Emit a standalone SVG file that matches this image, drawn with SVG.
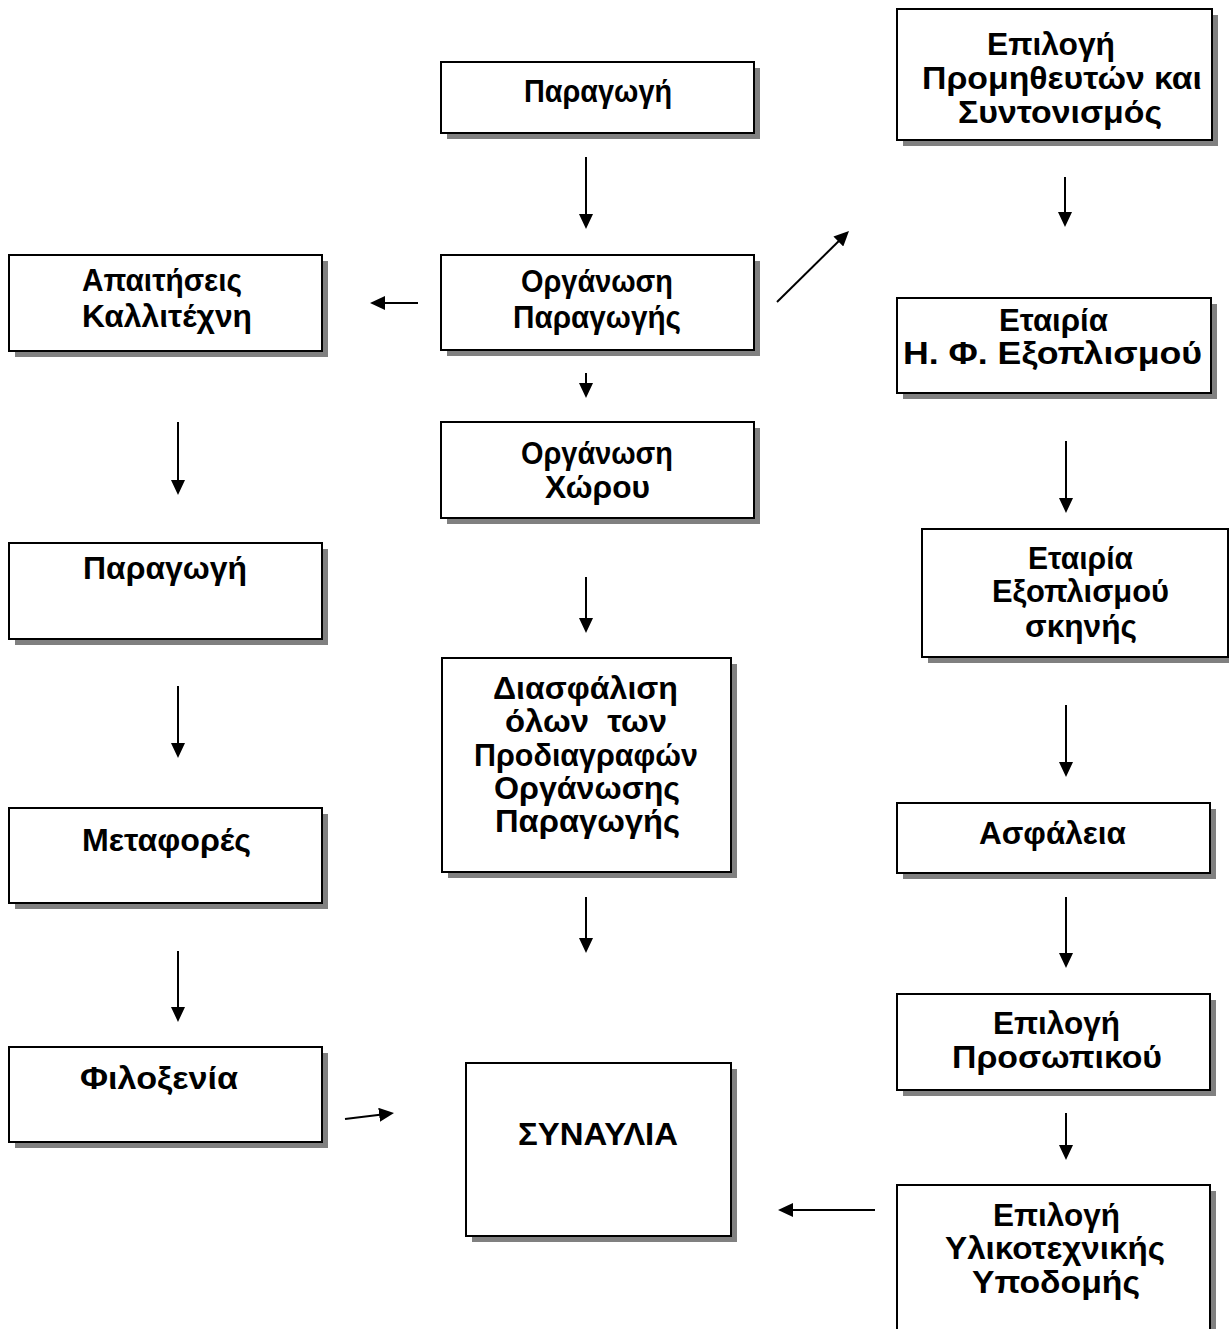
<svg xmlns="http://www.w3.org/2000/svg" width="1229" height="1329" viewBox="0 0 1229 1329">
<style>
.shadow{fill:#808080}
.box{fill:#fff;stroke:#000;stroke-width:2}
.t{font-family:"Liberation Sans",Arial,sans-serif;font-weight:bold;font-size:32px;fill:#000}
.c{stroke:#000;stroke-width:2;fill:none;marker-end:url(#ah)}
</style>
<defs>
<marker id="ah" markerUnits="userSpaceOnUse" markerWidth="15" markerHeight="14" refX="5" refY="7" orient="auto" viewBox="0 0 15 14">
<path d="M0,0 L15,7 L0,14 z" fill="#000"/>
</marker>
</defs>
<rect width="1229" height="1329" fill="#fff"/>

<g id="n1">
<rect class="shadow" x="447" y="68" width="313" height="71"/>
<rect class="box" x="441" y="62" width="313" height="71"/>
<text class="t" x="524" y="102" textLength="148" lengthAdjust="spacingAndGlyphs">Παραγωγή</text>
</g>

<g id="n2">
<rect class="shadow" x="903" y="15" width="315" height="131"/>
<rect class="box" x="897" y="9" width="315" height="131"/>
<text class="t" x="987" y="55" textLength="128" lengthAdjust="spacingAndGlyphs">Επιλογή</text>
<text class="t" x="922" y="89" textLength="280" lengthAdjust="spacingAndGlyphs">Προμηθευτών και</text>
<text class="t" x="958" y="123" textLength="204" lengthAdjust="spacingAndGlyphs">Συντονισμός</text>
</g>

<g id="n3">
<rect class="shadow" x="15" y="261" width="313" height="96"/>
<rect class="box" x="9" y="255" width="313" height="96"/>
<text class="t" x="82" y="291" textLength="160" lengthAdjust="spacingAndGlyphs">Απαιτήσεις</text>
<text class="t" x="82" y="327" textLength="170" lengthAdjust="spacingAndGlyphs">Καλλιτέχνη</text>
</g>

<g id="n4">
<rect class="shadow" x="447" y="261" width="313" height="95"/>
<rect class="box" x="441" y="255" width="313" height="95"/>
<text class="t" x="521" y="292" textLength="152" lengthAdjust="spacingAndGlyphs">Οργάνωση</text>
<text class="t" x="513" y="328" textLength="168" lengthAdjust="spacingAndGlyphs">Παραγωγής</text>
</g>

<g id="n5">
<rect class="shadow" x="903" y="304" width="314" height="95"/>
<rect class="box" x="897" y="298" width="314" height="95"/>
<text class="t" x="999" y="331" textLength="109" lengthAdjust="spacingAndGlyphs">Εταιρία</text>
<text class="t" x="903" y="364" textLength="299" lengthAdjust="spacingAndGlyphs">Η. Φ. Εξοπλισμού</text>
</g>

<g id="n6">
<rect class="shadow" x="447" y="428" width="313" height="96"/>
<rect class="box" x="441" y="422" width="313" height="96"/>
<text class="t" x="521" y="464" textLength="152" lengthAdjust="spacingAndGlyphs">Οργάνωση</text>
<text class="t" x="545" y="498" textLength="105" lengthAdjust="spacingAndGlyphs">Χώρου</text>
</g>

<g id="n7">
<rect class="shadow" x="15" y="549" width="313" height="96"/>
<rect class="box" x="9" y="543" width="313" height="96"/>
<text class="t" x="83" y="579" textLength="164" lengthAdjust="spacingAndGlyphs">Παραγωγή</text>
</g>

<g id="n8">
<rect class="shadow" x="928" y="535" width="306" height="128"/>
<rect class="box" x="922" y="529" width="306" height="128"/>
<text class="t" x="1028" y="569" textLength="105" lengthAdjust="spacingAndGlyphs">Εταιρία</text>
<text class="t" x="992" y="602" textLength="177" lengthAdjust="spacingAndGlyphs">Εξοπλισμού</text>
<text class="t" x="1025" y="637" textLength="112" lengthAdjust="spacingAndGlyphs">σκηνής</text>
</g>

<g id="n9">
<rect class="shadow" x="448" y="664" width="289" height="214"/>
<rect class="box" x="442" y="658" width="289" height="214"/>
<text class="t" x="493" y="699" textLength="185" lengthAdjust="spacingAndGlyphs">Διασφάλιση</text>
<text class="t" x="505" y="732" textLength="162" lengthAdjust="spacingAndGlyphs" xml:space="preserve">όλων  των</text>
<text class="t" x="474" y="766" textLength="224" lengthAdjust="spacingAndGlyphs">Προδιαγραφών</text>
<text class="t" x="494" y="799" textLength="186" lengthAdjust="spacingAndGlyphs">Οργάνωσης</text>
<text class="t" x="495" y="832" textLength="185" lengthAdjust="spacingAndGlyphs">Παραγωγής</text>
</g>

<g id="n10">
<rect class="shadow" x="15" y="814" width="313" height="95"/>
<rect class="box" x="9" y="808" width="313" height="95"/>
<text class="t" x="82" y="851" textLength="169" lengthAdjust="spacingAndGlyphs">Μεταφορές</text>
</g>

<g id="n11">
<rect class="shadow" x="903" y="809" width="313" height="70"/>
<rect class="box" x="897" y="803" width="313" height="70"/>
<text class="t" x="979" y="844" textLength="147" lengthAdjust="spacingAndGlyphs">Ασφάλεια</text>
</g>

<g id="n12">
<rect class="shadow" x="903" y="1000" width="313" height="96"/>
<rect class="box" x="897" y="994" width="313" height="96"/>
<text class="t" x="993" y="1034" textLength="127" lengthAdjust="spacingAndGlyphs">Επιλογή</text>
<text class="t" x="952" y="1068" textLength="210" lengthAdjust="spacingAndGlyphs">Προσωπικού</text>
</g>

<g id="n13">
<rect class="shadow" x="15" y="1053" width="313" height="95"/>
<rect class="box" x="9" y="1047" width="313" height="95"/>
<text class="t" x="80" y="1089" textLength="158" lengthAdjust="spacingAndGlyphs">Φιλοξενία</text>
</g>

<g id="n14">
<rect class="shadow" x="472" y="1069" width="265" height="173"/>
<rect class="box" x="466" y="1063" width="265" height="173"/>
<text class="t" x="518" y="1145" textLength="160" lengthAdjust="spacingAndGlyphs">ΣΥΝΑΥΛΙΑ</text>
</g>

<g id="n15">
<rect class="shadow" x="903" y="1191" width="313" height="160"/>
<rect class="box" x="897" y="1185" width="313" height="160"/>
<text class="t" x="993" y="1226" textLength="127" lengthAdjust="spacingAndGlyphs">Επιλογή</text>
<text class="t" x="945" y="1259" textLength="220" lengthAdjust="spacingAndGlyphs">Υλικοτεχνικής</text>
<text class="t" x="972" y="1293" textLength="168" lengthAdjust="spacingAndGlyphs">Υποδομής</text>
</g>

<g id="connectors">
<path class="c" d="M586,157 L586,219"/>
<path class="c" d="M1065,177 L1065,217"/>
<path class="c" d="M418,303 L380,303"/>
<path class="c" d="M777,302 L841.9,238"/>
<path class="c" d="M586,373 L586,388"/>
<path class="c" d="M178,422 L178,485"/>
<path class="c" d="M1066,441 L1066,503"/>
<path class="c" d="M586,577 L586,623"/>
<path class="c" d="M178,686 L178,748"/>
<path class="c" d="M1066,705 L1066,767"/>
<path class="c" d="M586,897 L586,943"/>
<path class="c" d="M1066,897 L1066,958"/>
<path class="c" d="M178,951 L178,1012"/>
<path class="c" d="M1066,1113 L1066,1150"/>
<path class="c" d="M345,1119 L384.1,1114.2"/>
<path class="c" d="M875,1210 L788,1210"/>
</g>
</svg>
